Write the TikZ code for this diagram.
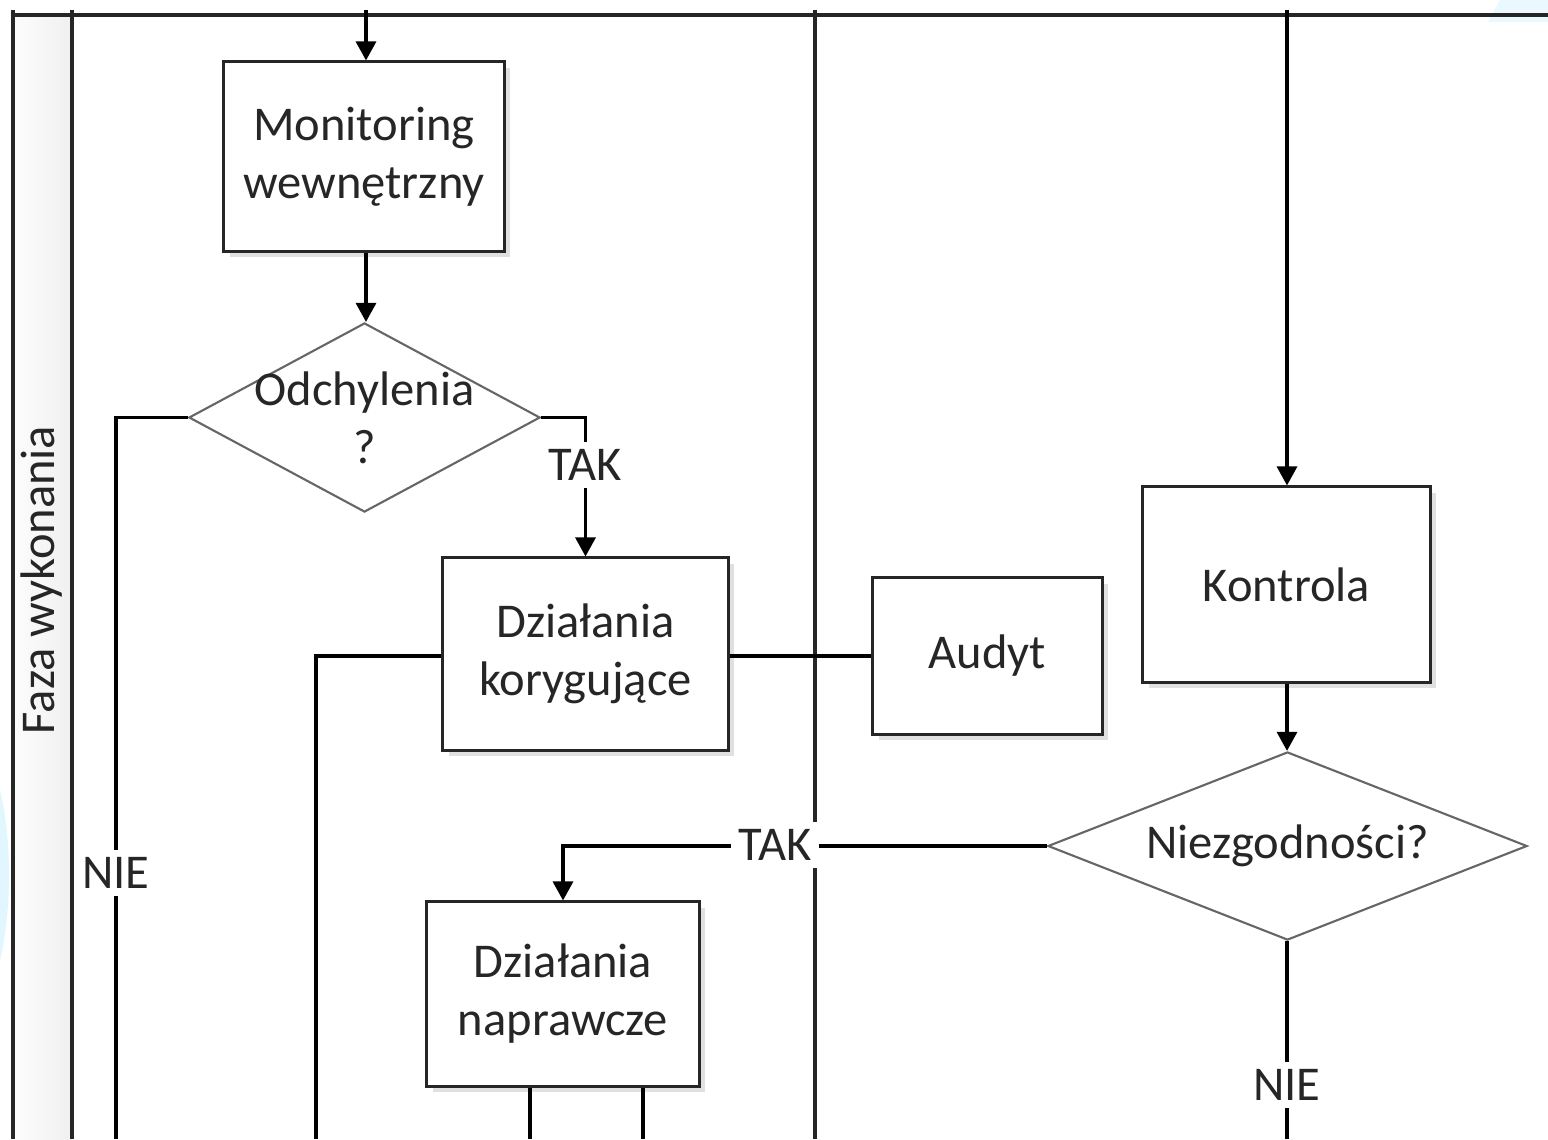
\documentclass[tikz,border=0pt]{standalone}
\usepackage{fontspec}
\setmainfont{Carlito}
\usetikzlibrary{arrows.meta,shapes.geometric,shadows}

\tikzset{
  box/.style={draw=black!85, line width=0.85pt, fill=white, rectangle,
    align=center, text=black!85, inner sep=0pt,
    drop shadow={shadow xshift=0.06cm, shadow yshift=-0.06cm, fill=black!12, opacity=1}},
  decision/.style={draw=black!60, line width=0.6pt, fill=white, diamond, inner sep=0pt},
  txt/.style={align=center, text=black!85, inner sep=0pt},
  lbl/.style={fill=white, text=black!85, inner sep=2pt},
  conn/.style={draw=black, line width=0.9pt},
  arr/.style={conn, -{Triangle[length=0.19cm, width=0.2cm]}},
  lane/.style={draw=black!85, line width=0.9pt},
}

\begin{document}
\begin{tikzpicture}[x=0.01cm, y=-0.01cm,
  every node/.style={font=\fontsize{13.8}{16.5}\selectfont}]
\useasboundingbox (0,0) rectangle (1548,1139);
\fill[white] (0,0) rectangle (1548,1139);

% faint background fragments at the edges
\fill[blue!30!cyan!10, opacity=0.8] (1500,0) -- (1548,0) -- (1548,22) -- (1488,22) -- cycle;
\fill[blue!30!cyan!14, opacity=0.8] (0,790) .. controls (12,840) and (12,910) .. (0,960) -- cycle;

% swimlane frame
\shade[left color=black!1, right color=black!6] (13,15) rectangle (72,1139);
\draw[lane] (13,10) -- (13,1139);
\draw[lane] (72,10) -- (72,1139);
\draw[lane] (13,15) -- (1548,15);
\draw[lane] (815,10) -- (815,1139);
\node[txt, rotate=90] (lanelbl) at (42,580) {Faza wykonania};

% process steps
\node[box, minimum width=2.80cm, minimum height=1.89cm] (mon) at (364,156.5)
  {Monitoring\\wewnętrzny};
\node[decision, minimum width=3.51cm, minimum height=1.89cm] (d1) at (364.5,417.5) {};
\node[txt] (d1t) at (d1.center) {Odchylenia\\?};
\node[box, minimum width=2.85cm, minimum height=1.92cm] (kor) at (585.5,654)
  {Działania\\korygujące};
\node[box, minimum width=2.29cm, minimum height=1.56cm] (aud) at (987.5,656) {Audyt};
\node[box, minimum width=2.87cm, minimum height=1.95cm] (kon) at (1286.5,584.5) {Kontrola};
\node[decision, minimum width=4.79cm, minimum height=1.88cm] (d2) at (1287.5,846) {};
\node[txt] (d2t) at (d2.center) {Niezgodności?};
\node[box, minimum width=2.72cm, minimum height=1.84cm] (nap) at (563,994)
  {Działania\\naprawcze};

% loose ends at the frame edges
\coordinate (in1) at (366,10);
\coordinate (in2) at (1287,10);
\coordinate (nieL) at (116,1139);
\coordinate (korOut) at (316,1139);
\coordinate (nieR) at (1287,1139);
\coordinate (o1) at (530,1139);
\coordinate (o2) at (643,1139);

% connectors
\draw[arr] (in1) -- (in1 |- mon.north);
\draw[arr] (mon.south -| in1) -- (in1 |- d1.north);
\draw[conn] (d1.west) -| (nieL);
\node[lbl] (nie1) at (116,873) {NIE};
\draw[arr] (d1.east) -| (kor.north);
\node[lbl] (tak1) at (585,465) {TAK};
\draw[conn] (aud.west -| kor.west) -| (korOut);
\draw[conn] (aud.west -| kor.east) -- (aud.west);
\draw[arr] (in2) -- (in2 |- kon.north);
\draw[arr] (kon.south -| in2) -- (in2 |- d2.north);
\draw[arr] (d2.west) -| (nap.north);
\node[lbl] (tak2) at (775,845) {TAK};
\draw[conn] (d2.south -| nieR) -- (nieR);
\node[lbl] (nie2) at (1287,1085) {NIE};
\draw[conn] (nap.south -| o1) -- (o1);
\draw[conn] (nap.south -| o2) -- (o2);
\end{tikzpicture}
\end{document}
